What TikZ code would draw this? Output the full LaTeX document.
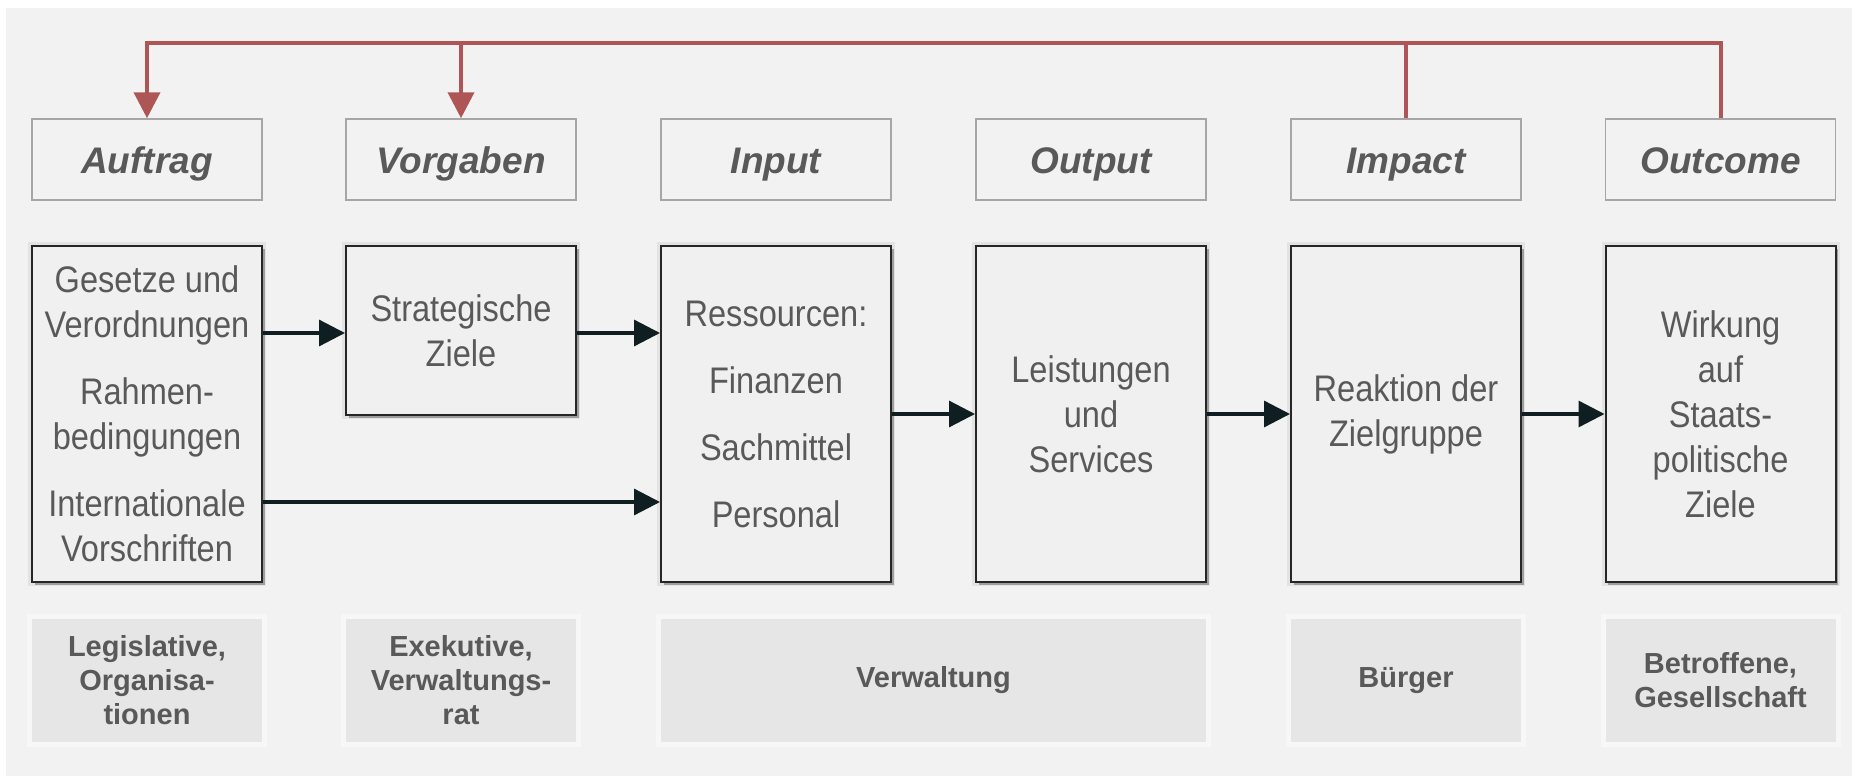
\documentclass[tikz,border=0pt]{standalone}
\usepackage{fontspec}
\setmainfont{Liberation Sans}
\newfontfamily\narrowfont{Liberation Sans}[FakeStretch=0.88]
\usetikzlibrary{arrows.meta,shadows,calc}
\definecolor{bg}{RGB}{242,242,242}
\definecolor{boxfill}{RGB}{240,240,240}
\definecolor{lowfill}{RGB}{230,230,230}
\definecolor{txt}{RGB}{89,89,89}
\definecolor{redl}{RGB}{174,86,86}
\definecolor{darkl}{RGB}{14,30,33}
\definecolor{tborder}{RGB}{166,166,166}
\definecolor{glow}{RGB}{247,247,247}
\begin{document}
\begin{tikzpicture}[x=1pt,y=-1pt,
  titlebox/.style={draw=tborder, line width=1.5pt, fill=bg, minimum width=230pt, minimum height=81pt, inner sep=0pt, text height=27pt, text depth=0pt, text=txt, font=\fontsize{37}{44}\selectfont\bfseries\itshape},
  mainbox/.style={draw=black!85, line width=2pt, fill=boxfill, minimum width=230pt, inner sep=0pt, text=txt, align=center, font=\narrowfont\fontsize{37}{45}\selectfont, drop shadow={shadow xshift=2.5pt, shadow yshift=-3pt, opacity=0.3, fill=black}, preaction={draw=black, draw opacity=0.06, line width=8pt}},
  lowbox/.style={fill=lowfill, preaction={draw=glow, line width=10pt}, minimum height=123pt, inner sep=0pt, text=txt, align=center, font=\fontsize{29}{34}\selectfont\bfseries},
  flow/.style={draw=darkl, line width=3.3pt, -{Triangle[length=26pt,width=26pt]}},
  fb/.style={draw=redl, line width=4pt, line join=miter},
  fbarrow/.style={fb, -{Triangle[length=26pt,width=26pt]}},
]
\useasboundingbox (0,0) rectangle (1852,776);
\fill[white] (0,0) rectangle (1852,776);
\fill[bg] (6,8) rectangle (1852,776);

% title boxes
\node[titlebox] (at) at (147,159.5) {Auftrag};
\node[titlebox] (vt) at (461,159.5) {Vorgaben};
\node[titlebox] (it) at (776,159.5) {Input};
\node[titlebox] (ot) at (1091,159.5) {Output};
\node[titlebox] (mt) at (1406,159.5) {Impact};
\node[titlebox] (ct) at (1720.5,159.5) {Outcome};

% main boxes
\node[mainbox, minimum height=336pt] (am) at (147,414) {Gesetze und\\Verordnungen\\[22pt]Rahmen-\\bedingungen\\[22pt]Internationale\\Vorschriften};
\node[mainbox, minimum height=169pt] (vm) at (461,330.5) {Strategische\\Ziele};
\node[mainbox, minimum height=336pt] (im) at (776,414) {Ressourcen:\\[22pt]Finanzen\\[22pt]Sachmittel\\[22pt]Personal};
\node[mainbox, minimum height=336pt] (om) at (1091,414) {Leistungen\\und\\Services};
\node[mainbox, minimum height=336pt] (mm) at (1406,414) {Reaktion der\\Zielgruppe};
\node[mainbox, minimum height=336pt] (cm) at (1720.5,414) {Wirkung\\auf\\Staats-\\politische\\Ziele};

% bottom boxes
\node[lowbox, minimum width=230pt] (al) at (147,680.5) {Legislative,\\Organisa-\\tionen};
\node[lowbox, minimum width=230pt] (vl) at (461,680.5) {Exekutive,\\Verwaltungs-\\rat};
\node[lowbox, minimum width=545pt] (il) at (933.5,680.5) {Verwaltung};
\node[lowbox, minimum width=230pt] (ml) at (1406,680.5) {Bürger};
\node[lowbox, minimum width=230pt] (cl) at (1720.5,680.5) {Betroffene,\\Gesellschaft};

% flow arrows
\coordinate (a1) at ($(am.east)+(0,-81)$);
\coordinate (a2) at ($(am.east)+(0,88)$);
\draw[flow] (a1) -- (vm.west |- a1);
\draw[flow] ($(vm.east)+(0,2.5)$) -- ($(im.west |- vm.east)+(0,2.5)$);
\draw[flow] (a2) -- (im.west |- a2);
\draw[flow] (im.east) -- (om.west);
\draw[flow] (om.east) -- (mm.west);
\draw[flow] (mm.east) -- (cm.west);

% feedback lines
\draw[fbarrow] (ct.north) -- ++(0,-75) -| (at.north);
\draw[fbarrow] ($(vt.north)+(0,-75)$) -- (vt.north);
\draw[fb] (mt.north) -- ++(0,-75);
\end{tikzpicture}
\end{document}
